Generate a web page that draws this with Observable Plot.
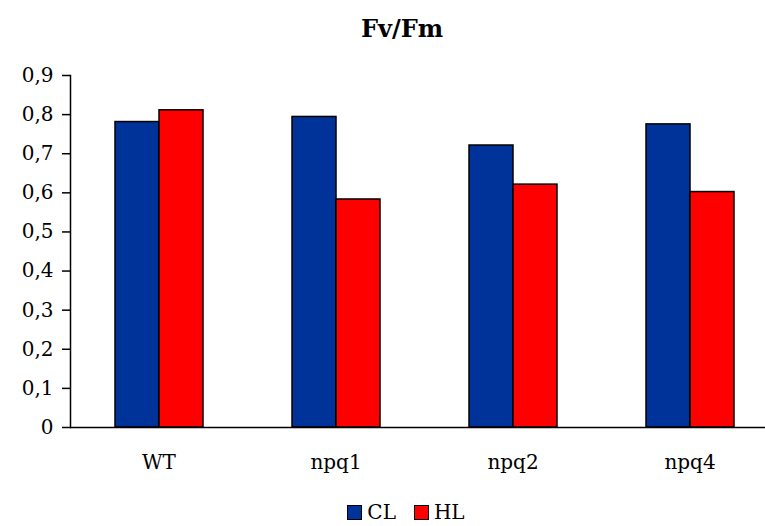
<!DOCTYPE html>
<html>
<head>
<meta charset="utf-8">
<script src="https://cdn.jsdelivr.net/npm/d3@7"></script>
<script src="https://cdn.jsdelivr.net/npm/@observablehq/plot@0.6"></script>
<style>
  body { margin: 0; background: #fff; }
  #wrap { position: relative; width: 765px; height: 526px; overflow: hidden; font-family: "DejaVu Serif", serif; }
  #title { position: absolute; left: 0; width: 804px; top: 17px; text-align: center; font-weight: bold; font-size: 24px; color: #000; line-height: 1; }
  #chart { position: absolute; left: 0; top: 0; }
  #legend { position: absolute; left: 0; width: 812px; top: 501px; text-align: center; font-size: 20px; color: #000; line-height: 22px; white-space: nowrap; }
  .sw { display: inline-block; width: 13px; height: 13px; border: 1.5px solid #000; vertical-align: -1px; margin-right: 5px; }
  .item { display: inline-block; margin: 0 9px; }
</style>
</head>
<body>
<div id="wrap">
  <div id="chart"></div>
  <div id="title">Fv/Fm</div>
  <div id="legend"></div>
</div>
<script>
const categories = ["WT", "npq1", "npq2", "npq4"];
const series = ["CL", "HL"];
const clValues = [0.781, 0.794, 0.721, 0.775];
const hlValues = [0.811, 0.583, 0.621, 0.602];
const yTicks = [0, 0.1, 0.2, 0.3, 0.4, 0.5, 0.6, 0.7, 0.8, 0.9];
const seriesColors = ["#003399", "#FF0000"];

const data = categories.flatMap((c, i) => [
  {cat: c, s: series[0], v: clValues[i]},
  {cat: c, s: series[1], v: hlValues[i]}
]);

const fmt = d => d === 0 ? "0" : d.toFixed(1).replace(".", ",");

const chart = Plot.plot({
  width: 765,
  height: 490,
  marginLeft: 70,
  marginRight: -13,
  marginTop: 75,
  marginBottom: 63,
  style: {fontFamily: "DejaVu Serif, serif", fontSize: "20px", color: "#000", background: "transparent"},
  fx: {domain: categories, padding: 0, label: null, tickSize: 0, tickPadding: 27},
  x: {domain: series, paddingInner: 0, paddingOuter: 0.99, axis: null},
  y: {domain: [0, 0.9], label: null},
  color: {domain: series, range: seriesColors},
  marks: [
    Plot.barY(data, {fx: "cat", x: "s", y: "v", fill: "s", stroke: "#000", strokeWidth: 1.5}),
    Plot.ruleY([0], {stroke: "#000", strokeWidth: 1.5}),
    Plot.frame({anchor: "left", facetAnchor: "left", stroke: "#000", strokeWidth: 1.5}),
    Plot.axisY(yTicks, {tickFormat: fmt, tickSize: 8, tickPadding: 9, strokeWidth: 1.5, label: null})
  ]
});
document.getElementById("chart").appendChild(chart);

const legend = document.getElementById("legend");
series.forEach((s, i) => {
  const item = document.createElement("span");
  item.className = "item";
  const sw = document.createElement("span");
  sw.className = "sw";
  sw.style.background = seriesColors[i];
  item.appendChild(sw);
  item.appendChild(document.createTextNode(s));
  legend.appendChild(item);
});
</script>
</body>
</html>
